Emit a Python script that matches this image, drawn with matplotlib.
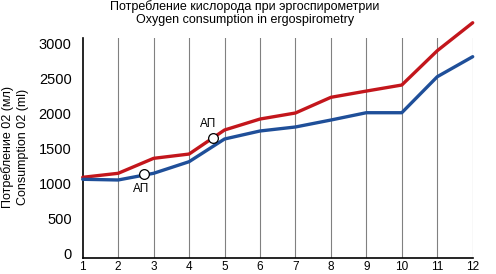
import matplotlib
matplotlib.use("Agg")
import matplotlib.pyplot as plt

plt.rcParams['font.family'] = ['Liberation Sans', 'DejaVu Sans']

stages = [1, 2, 3, 4, 5, 6, 7, 8, 9, 10, 11, 12]
red_vals = [1091, 1148, 1361, 1422, 1764, 1920, 2006, 2229, 2318, 2404, 2892, 3290]
blue_vals = [1063, 1053, 1148, 1313, 1636, 1750, 1807, 1906, 2010, 2010, 2522, 2807]
ap_blue = (2.73, 1138)
ap_red = (4.67, 1654)
ap_label = "АП"
yticks = [0, 500, 1000, 1500, 2000, 2500, 3000]
title = "Потребление кислорода при эргоспирометрии\nOxygen consumption in ergospirometry"
ylabel = "Потребление 02 (мл)\nConsumption 02 (ml)"

W, H = 496, 274
fig = plt.figure(figsize=(W / 100, H / 100), dpi=100)
ax = fig.add_axes([82.7 / W, (H - 258) / H, (472.7 - 82.7) / W, (258 - 38) / H])

ax.set_xlim(1, 12)
ax.set_ylim(-57, 3073)

for x in stages[1:]:
    ax.axvline(x, color='#808080', lw=0.8, zorder=1)

red_c = '#c3161c'
blue_c = '#1f4f99'
ax.plot(stages, red_vals, color=red_c, lw=2.4, solid_joinstyle='round',
        solid_capstyle='round', clip_on=False, zorder=3)
ax.plot(stages, blue_vals, color=blue_c, lw=2.4, solid_joinstyle='round',
        solid_capstyle='round', clip_on=False, zorder=3)

ax.plot([ap_blue[0]], [ap_blue[1]], 'o', ms=7, mfc='white', mec='black', mew=0.9, zorder=4)
ax.plot([ap_red[0]], [ap_red[1]], 'o', ms=7, mfc='white', mec='black', mew=0.9, zorder=4)
ax.text(ap_blue[0] - 0.07, ap_blue[1] - 218, ap_label, ha='center', va='center', fontsize=8.5)
ax.text(ap_red[0] - 0.14, ap_red[1] + 195, ap_label, ha='center', va='center', fontsize=8.5)

ax.set_xticks(stages)
ax.set_xticklabels([str(s) for s in stages], fontsize=8.5)
ax.set_yticks(yticks)
ax.set_yticklabels([str(v) for v in yticks], fontsize=10.5)
ax.tick_params(axis='both', length=0)
ax.tick_params(axis='y', pad=8)
ax.tick_params(axis='x', pad=2)

for s in ['top', 'right']:
    ax.spines[s].set_visible(False)
for s in ['left', 'bottom']:
    ax.spines[s].set_color('black')
    ax.spines[s].set_linewidth(1.2)

fig.text(245 / W, 1 - 13 / H, title, ha='center', va='center', fontsize=9, linespacing=1.2)
fig.text(15 / W, 1 - 147 / H, ylabel, ha='center', va='center', rotation=90,
         fontsize=9, linespacing=1.25)

fig.savefig('out.png', dpi=100)
